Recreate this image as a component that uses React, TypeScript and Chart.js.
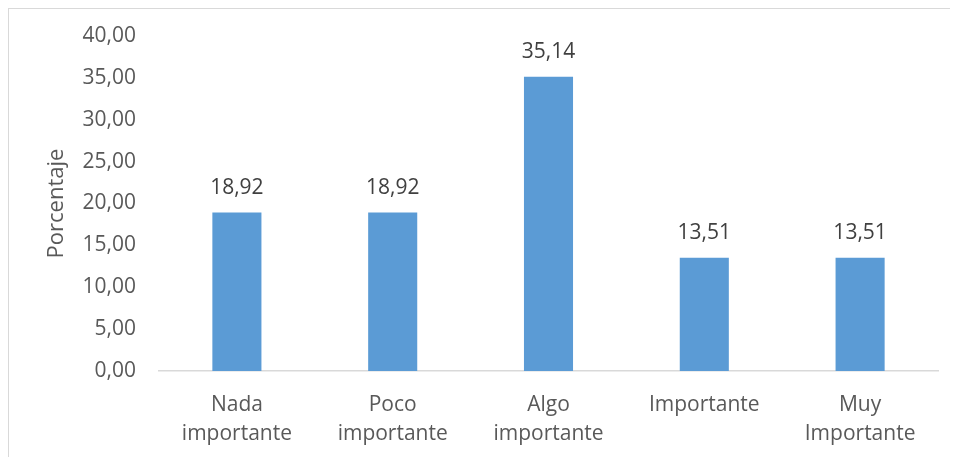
import React, { useEffect, useRef } from "react";
import { Chart, registerables } from "chart.js";

Chart.register(...registerables);

const categories: (string | string[])[] = [
  ["Nada", "importante"],
  ["Poco", "importante"],
  ["Algo", "importante"],
  "Importante",
  ["Muy", "Importante"],
];
const values: number[] = [18.92, 18.92, 35.14, 13.51, 13.51];
const yTitle = "Porcentaje";
const yMin = 0;
const yMax = 40;
const yStep = 5;

const FONT = "'Open Sans', 'DejaVu Sans', sans-serif";
const fmt = (v: number) => v.toFixed(2).replace(".", ",");

const labelPlugin = {
  id: "barLabels",
  afterDatasetsDraw(chart: any) {
    const ctx = chart.ctx;
    const meta = chart.getDatasetMeta(0);
    ctx.save();
    ctx.font = `21px ${FONT}`;
    ctx.fillStyle = "#404040";
    ctx.textAlign = "center";
    ctx.textBaseline = "middle";
    meta.data.forEach((el: any, i: number) => {
      ctx.fillText(fmt(values[i]), el.x, el.y - 25);
    });
    ctx.restore();
  },
};

export default function App() {
  const ref = useRef<HTMLCanvasElement | null>(null);
  useEffect(() => {
    document.body.style.overflow = "hidden";
    document.documentElement.style.overflow = "hidden";
    if (!ref.current) return;
    const chart = new Chart(ref.current, {
      type: "bar",
      data: {
        labels: categories,
        datasets: [
          {
            data: values,
            backgroundColor: "#5B9BD5",
            categoryPercentage: 1,
            barPercentage: 0.315,
          },
        ],
      },
      options: {
        animation: false,
        responsive: false,
        maintainAspectRatio: false,
        layout: { padding: { left: 0, right: 31, top: 27, bottom: 0 } },
        plugins: {
          legend: { display: false },
          tooltip: { enabled: false },
        },
        scales: {
          x: {
            grid: { display: false },
            border: { display: true, color: "#d9d9d9", width: 1.5 },
            ticks: {
              color: "#595959",
              font: { family: FONT, size: 21, lineHeight: 1.38 },
              padding: 12,
              maxRotation: 0,
              autoSkip: false,
            },
            afterFit: (s: any) => {
              s.height = 98;
              s.paddingLeft = 0;
              s.paddingRight = 0;
            },
          },
          y: {
            min: yMin,
            max: yMax,
            grid: { display: false, drawTicks: false },
            border: { display: false },
            ticks: {
              stepSize: yStep,
              color: "#595959",
              font: { family: FONT, size: 21 },
              padding: 23,
              callback: (v: any) => fmt(Number(v)),
            },
            title: {
              display: true,
              text: yTitle,
              color: "#595959",
              font: { family: FONT, size: 22 },
              padding: { top: 35, bottom: 0 },
            },
            afterFit: (s: any) => {
              s.width = 150;
              s.paddingTop = 0;
              s.paddingBottom = 0;
            },
          },
        },
      },
      plugins: [labelPlugin],
    });
    return () => chart.destroy();
  }, []);
  return (
    <div
      style={{
        width: 960,
        height: 460,
        border: "1px solid #d9d9d9",
        background: "#fff",
      }}
    >
      <canvas ref={ref} width={960} height={460} style={{ display: "block" }} />
    </div>
  );
}
